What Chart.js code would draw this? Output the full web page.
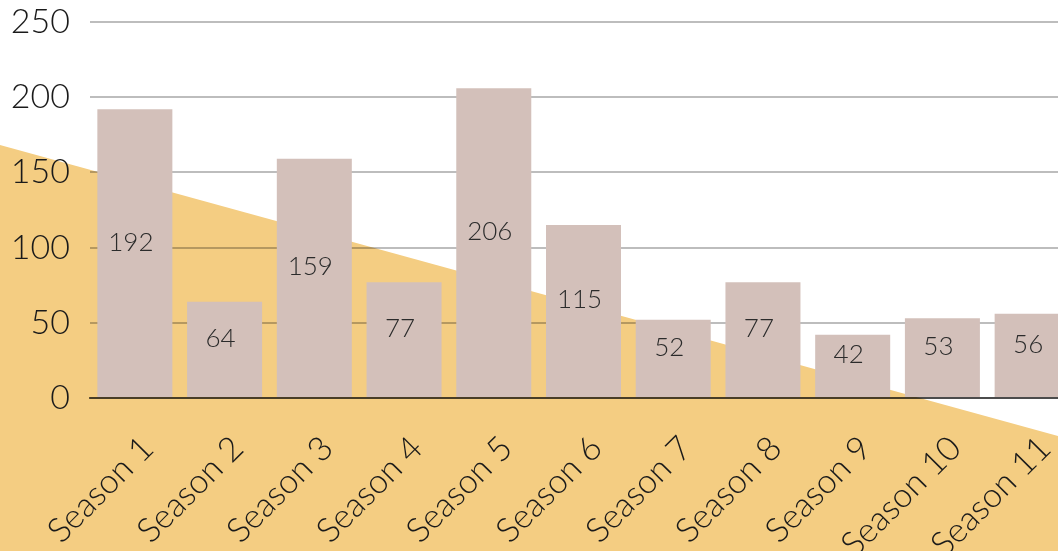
<!DOCTYPE html>
<html>
<head>
<meta charset="utf-8">
<script src="https://cdn.jsdelivr.net/npm/chart.js@4.4.1/dist/chart.umd.min.js"></script>
<style>
	html, body { margin: 0; padding: 0; background: #fff; overflow: hidden; }
	#wrap { width: 1058px; height: 551px; overflow: hidden; position: relative; }
	canvas { display: block; }
</style>
</head>
<body>
<div id="wrap"><canvas id="chart" width="1077" height="551"></canvas></div>
<script>
var seasons = ["Season 1","Season 2","Season 3","Season 4","Season 5","Season 6","Season 7","Season 8","Season 9","Season 10","Season 11"];
var episodes = [192, 64, 159, 77, 206, 115, 52, 77, 42, 53, 56];
var yTicks = [0, 50, 100, 150, 200, 250];

// yellow wedge behind the plot
var backdrop = {
	id: "backdrop",
	beforeDraw: function (chart) {
		var ctx = chart.ctx;
		ctx.save();
		ctx.fillStyle = "#f4cd82";
		ctx.beginPath();
		ctx.moveTo(0, 145);
		ctx.lineTo(1058, 436);
		ctx.lineTo(1058, 551);
		ctx.lineTo(0, 551);
		ctx.closePath();
		ctx.fill();
		ctx.restore();
	}
};

// value labels inside the bars
var barLabels = {
	id: "barLabels",
	afterDatasetsDraw: function (chart) {
		var ctx = chart.ctx;
		var meta = chart.getDatasetMeta(0);
		ctx.save();
		ctx.font = "300 26px Lato";
		ctx.fillStyle = "#2b2b2b";
		ctx.textAlign = "center";
		ctx.textBaseline = "middle";
		meta.data.forEach(function (bar, i) {
			var y = (bar.y + bar.base) / 2 - 11;
			ctx.fillText(episodes[i], bar.x - 4, y);
		});
		ctx.restore();
	}
};

new Chart(document.getElementById("chart"), {
	type: "bar",
	data: {
		labels: seasons,
		datasets: [{
			data: episodes,
			backgroundColor: "#d3c0ba",
			borderWidth: 0,
			barPercentage: 0.836,
			categoryPercentage: 1
		}]
	},
	options: {
		responsive: false,
		animation: false,
		layout: { padding: { top: 22, right: 0, left: 0, bottom: 0 } },
		plugins: {
			legend: { display: false },
			tooltip: { enabled: false }
		},
		scales: {
			x: {
				grid: { display: false, drawTicks: false },
				border: { color: "rgba(0,0,0,0.6)", width: 2 },
				ticks: {
					autoSkip: false,
					minRotation: 45,
					maxRotation: 45,
					padding: 30,
					labelOffset: 13,
					color: "#1a1a1a",
					font: { family: "Lato", size: 34, weight: "300" }
				},
				afterFit: function (scale) {
					scale.height = 153;
					scale.paddingLeft = 0;
					scale.paddingRight = 0;
				}
			},
			y: {
				min: 0,
				max: 250,
				afterBuildTicks: function (scale) {
					scale.ticks = yTicks.map(function (v) { return { value: v }; });
				},
				grid: { color: "rgba(0,0,0,0.26)", lineWidth: 2, drawTicks: false },
				border: { display: false },
				ticks: {
					padding: 20,
					color: "#1a1a1a",
					font: { family: "Lato", size: 34, weight: "300" }
				},
				afterFit: function (scale) {
					scale.width = 90;
					scale.paddingTop = 0;
					scale.paddingBottom = 0;
				}
			}
		}
	},
	plugins: [backdrop, barLabels]
});
</script>
</body>
</html>
